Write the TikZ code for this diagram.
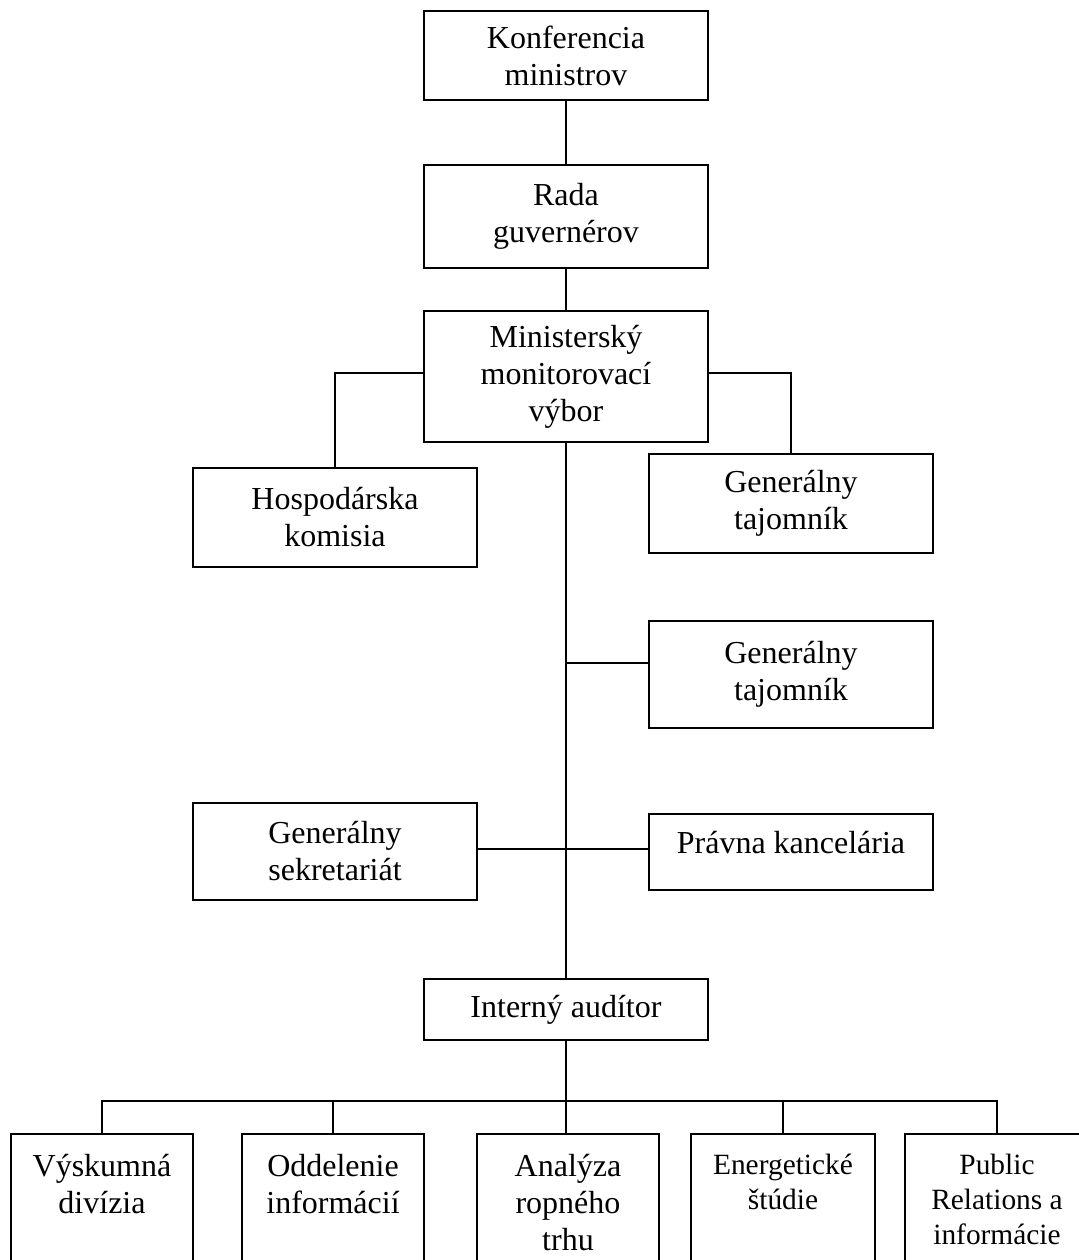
\documentclass[tikz,border=0pt]{standalone}
\usepackage{fontspec}
\setmainfont{Liberation Serif}
\usetikzlibrary{calc}

\begin{document}
\begin{tikzpicture}[x=0.5pt,y=-0.5pt,line width=1pt,
	box/.style={draw,rectangle,align=center,minimum width=142pt,inner sep=0pt,
		font=\fontsize{16pt}{18.5pt}\selectfont},
	leaf/.style={box,anchor=north,minimum width=91pt,inner ysep=10pt,text depth=60pt},
	small/.style={font=\fontsize{14.7pt}{17.5pt}\selectfont}]
		\useasboundingbox (0,0) rectangle (1078,1260);

		\node[box,minimum height=44.5pt] (konf) at (566,55.5) {Konferencia\\ministrov};
		\node[box,minimum height=51.5pt] (rada) at (566,216.5) {Rada\\guvernérov};
		\node[box,minimum height=65.5pt] (mmv) at (566,376.5) {Ministerský\\monitorovací\\výbor};
		\node[box,minimum height=49.5pt] (hosp) at (335,517.5) {Hospodárska\\komisia};
		\node[box,minimum height=49.5pt] (gtaj1) at (791,503.5) {Generálny\\tajomník};
		\node[box,minimum height=53.5pt] (gtaj2) at (791,674.5) {Generálny\\tajomník};
		\node[box,minimum height=48.5pt] (gsek) at (335,851.5) {Generálny\\sekretariát};
		\node[box,minimum height=38pt,text depth=9pt] (pravna) at (791,851.5) {Právna kancelária};
		\node[box,minimum height=30.5pt] (audit) at (566,1009.5) {Interný audítor};

		\node[leaf] (vysk) at (102,1133) {Výskumná\\divízia};
		\node[leaf] (odd) at (333,1133) {Oddelenie\\informácií};
		\node[leaf] (ropa) at (568,1133) {Analýza\\ropného\\trhu};
		\node[leaf,small,minimum width=92pt] (energ) at (783,1133) {Energetické\\štúdie};
		\node[leaf,small,minimum width=92pt] (pr) at (997,1133) {Public\\Relations a\\informácie};

		\draw (konf) -- (rada);
		\draw (rada) -- (mmv);
		\draw ([yshift=2pt]mmv.west) -| (hosp.north);
		\draw ([yshift=2pt]mmv.east) -| (gtaj1.north);
		\draw (mmv.south) -- (audit.north);
		\draw ([yshift=6pt]gtaj2.west) -- ([yshift=6pt]gtaj2.west -| mmv.south);
		\draw ([yshift=1.5pt]gsek.east) -- ([yshift=1.5pt]pravna.west);

		\coordinate (bus) at (566,1101);
		\draw (audit.south) -- (audit.south |- ropa.north);
		\draw (vysk.north) |- (bus) -| (pr.north);
		\foreach \n in {odd,energ}
			\draw (\n.north) -- (\n.north |- bus);
\end{tikzpicture}
\end{document}
